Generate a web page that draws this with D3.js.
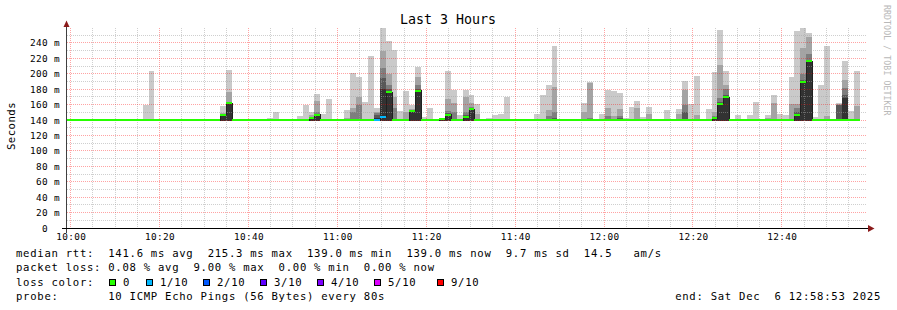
<!DOCTYPE html>
<html>
<head>
<meta charset="utf-8">
<script src="https://cdn.jsdelivr.net/npm/d3@7"></script>
<style>
  body { margin: 0; background: #fff; }
  text { font-family: "DejaVu Sans Mono", monospace; }
</style>
</head>
<body>
<div id="chart"></div>
<script>
// rrd step grid: one step every 80 s, step 0 starts at 10:00:11
var stepSec = 80;
var firstStep = "10:00:11";
var startTime = "09:59:10", endTime = "12:59:10";

// median rtt (ms) per step, steps -1 .. 132
var median = [
  139.5,139.5,139.5,139.5,139.5,139.5,139.5,139.5,139.5,139.5,   // -1..8
  139.5,139.5,139.5,139.5,139.5,139.5,139.5,139.5,139.5,139.5,   // 9..18
  139.5,139.5,139.5,139.5,139.5,139.5,147,162,139.5,139.5,       // 19..28
  139.5,139.5,139.5,139.5,139.5,139.5,139.5,139.5,139.5,139.5,   // 29..38
  139.5,143,147,139.5,139.5,139.5,139.5,139.5,139.5,139.5,       // 39..48
  139.5,139.5,139.5,144,176,139.5,139.5,139.5,152,178,           // 49..58
  139.5,139.5,139.5,141,147,139.5,139.5,144,154,139.5,           // 59..68
  139.5,139.5,139.5,139.5,139.5,139.5,139.5,139.5,139.5,139.5,   // 69..78
  139.5,139.5,139.5,139.5,139.5,139.5,139.5,139.5,139.5,139.5,   // 79..88
  139.5,139.5,139.5,139.5,139.5,139.5,139.5,139.5,139.5,139.5,   // 89..98
  139.5,139.5,139.5,139.5,139.5,139.5,139.5,139.5,139.5,142,     // 99..108
  161,169.5,139.5,139.5,139.5,139.5,139.5,139.5,139.5,139.5,     // 109..118
  139.5,139.5,139.5,147,189,216,139.5,139.5,139.5,139.5,         // 119..128
  139.5,140.5,139.5,139.5                                        // 129..132
];

// steps with lost pings
var lossStep = [51, 52];
var lossCount = [1, 1];

// smoke: steps with spread pings and the tops (ms) of the bands p10, p9, p8, p7, p6
var smokeFloor = 139.0;
var smokeStep = [12,13,25,26,33,34,38,39,40,41,42,43,46,47,48,49,50,51,52,53,54,55,56,57,58,59,60,
  62,63,64,65,66,67,68,70,71,72,73,78,79,80,81,85,86,87,89,90,91,92,93,94,95,96,97,99,100,
  102,103,104,105,106,107,108,109,110,112,114,115,117,118,119,120,121,122,123,124,125,126,127,
  129,130,131,132];
var smokeTop = [
  [160],[204],[158,149,148,148,148],[205,177,164,163,163],[142],[150],[145],[160],
  [150,146,144,144,144],[174,165,150,148,148],[148],[167],[153,142],[201,155,150],[196,170,160],
  [164],[223],[156,150,149,146,142],[259,230,208,195,180],[242,200,185,180,178],[231,170,155],
  [152],[178,150],[160,154,153,153,153],[209,196,185,180,179],[144],[155],
  [143,142,142,142,142],[204,167,152,149,148],[179,162,150],[147],[179,170,150,146,145],
  [173,162,157,155,155],[161,148],[142],[147],[148],[170],[148],[173],[186,153,145],
  [236,183,150,143],[141],[162,150],[189,188,142],[148],[179,155,145],[178,145],
  [175,154,145,142],[142],[157],[165,155],[144],[157,148],[141],[153],
  [154,148],[191,179,159,150],[161],[197,146],[141],[154],[202,150,145,143,143],
  [257,211,169,163,162],[204,185,180,172,171],[147],[147],[163],[147,143],[173,162],[148],
  [147],[196,161],[255,161,155,150,148],[259,233,200,192,190],[253,248,225,218,217],[144],
  [186],[236,145],[162,161,160,160],[216,192,182,172,168],[152],[204,158]
];

var yTicks = [0, 20, 40, 60, 80, 100, 120, 140, 160, 180, 200, 220, 240];
var xTickLabels = ["10:00", "10:20", "10:40", "11:00", "11:20", "11:40", "12:00", "12:20", "12:40"];
var smokeColors = ["#cacaca", "#a4a4a4", "#7e7e7e", "#585858", "#323232"];
var lossLabels = ["0", "1/10", "2/10", "3/10", "4/10", "5/10", "9/10"];
var lossLevels = [0, 1, 2, 3, 4, 5, 9];
var lossColors = ["#26ff00", "#00b8ff", "#0059ff", "#5e00ff", "#7e00ff", "#dd00ff", "#ff0000"];

var legendLines = [
  "median rtt:  141.6 ms avg  215.3 ms max  139.0 ms min  139.0 ms now  9.7 ms sd  14.5   am/s",
  "packet loss: 0.08 % avg  9.00 % max  0.00 % min  0.00 % now",
  "loss color:",
  "probe:       10 ICMP Echo Pings (56 Bytes) every 80s"
];
var endLabel = "end: Sat Dec  6 12:58:53 2025";

var W = 897, H = 310;
var plot = {left: 67, right: 867, top: 27.5, bottom: 228};

var svg = d3.select("#chart").append("svg")
  .attr("width", W).attr("height", H);

var parse = d3.timeParse("%H:%M:%S");
var x = d3.scaleTime()
  .domain([parse(startTime), parse(endTime)])
  .range([plot.left, plot.right]);
var y = d3.scaleLinear()
  .domain([0, 260])
  .range([plot.bottom, plot.top]);

var t0 = parse(firstStep);
function stepX(k) { return Math.round(x(new Date(+t0 + k * stepSec * 1000))); }
function px(v) { return Math.floor(v) + 0.5; }

svg.append("clipPath").attr("id", "clip")
  .append("rect")
  .attr("x", plot.left).attr("y", 0)
  .attr("width", plot.right - plot.left).attr("height", plot.bottom);

var g = svg.append("g").attr("clip-path", "url(#clip)");

// smoke
smokeStep.forEach(function(k, i) {
  smokeTop[i].forEach(function(top, j) {
    g.append("rect")
      .attr("x", stepX(k))
      .attr("width", stepX(k + 1) - stepX(k))
      .attr("y", Math.round(y(top)))
      .attr("height", Math.round(y(smokeFloor)) - Math.round(y(top)))
      .attr("fill", smokeColors[j])
      .attr("shape-rendering", "crispEdges");
  });
});

// grid
var minorY = d3.range(0, 260, 10).filter(function(v) { return v % 20 !== 0; });
var majorY = d3.range(20, 260, 20);
var minorX = x.ticks(d3.timeMinute.every(5)).filter(function(d) { return d.getMinutes() % 20 !== 0; });
var majorX = x.ticks(d3.timeMinute.every(20));

function hgrid(vals, color) {
  g.selectAll(null).data(vals).enter().append("line")
    .attr("x1", plot.left).attr("x2", plot.right)
    .attr("y1", function(v) { return px(y(v)); })
    .attr("y2", function(v) { return px(y(v)); })
    .attr("stroke", color).attr("stroke-dasharray", "1,1")
    .attr("shape-rendering", "crispEdges");
}
function vgrid(vals, color) {
  g.selectAll(null).data(vals).enter().append("line")
    .attr("y1", plot.top).attr("y2", plot.bottom)
    .attr("x1", function(d) { return px(x(d)); })
    .attr("x2", function(d) { return px(x(d)); })
    .attr("stroke", color).attr("stroke-dasharray", "1,1")
    .attr("shape-rendering", "crispEdges");
}
hgrid(minorY, "rgba(160,160,160,0.5)");
vgrid(minorX, "rgba(160,160,160,0.5)");
hgrid(majorY, "rgba(255,0,0,0.36)");
vgrid(majorX, "rgba(255,0,0,0.36)");

// median line (black step line)
var medPts = median.map(function(v, i) { return [stepX(i - 1), v]; });
medPts.push([stepX(median.length - 1), median[median.length - 1]]);
g.append("path")
  .attr("d", d3.line()
    .x(function(d) { return d[0]; })
    .y(function(d) { return px(y(d[1])); })
    .curve(d3.curveStepAfter)(medPts))
  .attr("fill", "none")
  .attr("stroke", "#202020")
  .attr("stroke-width", 1)
  .attr("shape-rendering", "crispEdges");

// loss coloured median bands
median.forEach(function(v, i) {
  var k = i - 1;
  var li = lossStep.indexOf(k);
  var lc = li < 0 ? 0 : lossCount[li];
  var ci = lossLevels.indexOf(lc);
  g.append("rect")
    .attr("x", stepX(k))
    .attr("width", stepX(k + 1) - stepX(k))
    .attr("y", Math.round(y(v)) - 1)
    .attr("height", 2)
    .attr("fill", lossColors[ci])
    .attr("shape-rendering", "crispEdges");
});

// axes
var yAxis = svg.append("g")
  .attr("transform", "translate(66,0)")
  .call(d3.axisLeft(y).tickValues(yTicks).tickSize(0).tickPadding(6)
    .tickFormat(function(v) { return v === 0 ? "0" : v + " m"; }));
yAxis.select(".domain").remove();
yAxis.selectAll("text")
  .style("font-family", "DejaVu Sans Mono, monospace")
  .style("font-size", "9.4px").style("letter-spacing", "0.35px")
  .attr("fill", "#000");
// rrdtool keeps the unit column empty for zero
yAxis.selectAll(".tick text").filter(function(d) { return d === 0; }).attr("x", -18);

var xTickDates = xTickLabels.map(function(s) { return parse(s + ":00"); });
var xAxis = svg.append("g")
  .attr("transform", "translate(0,228)")
  .call(d3.axisBottom(x).tickValues(xTickDates).tickSize(0).tickPadding(5)
    .tickFormat(d3.timeFormat("%H:%M")));
xAxis.select(".domain").remove();
xAxis.selectAll("text")
  .style("font-family", "DejaVu Sans Mono, monospace")
  .style("font-size", "9.4px").style("letter-spacing", "0.35px")
  .attr("fill", "#000");

svg.append("line")
  .attr("x1", 66.5).attr("x2", 66.5).attr("y1", 233).attr("y2", 24)
  .attr("stroke", "#404040").attr("shape-rendering", "crispEdges");
svg.append("line")
  .attr("x1", 62).attr("x2", 869).attr("y1", 228.5).attr("y2", 228.5)
  .attr("stroke", "#000").attr("shape-rendering", "crispEdges");
svg.append("path").attr("d", "M63.5,27 L69.5,27 L66.5,20.5 Z").attr("fill", "#8b1a1a");
svg.append("path").attr("d", "M868,225 L868,232 L874.5,228.5 Z").attr("fill", "#8b1a1a");

// title and labels
svg.append("text")
  .attr("x", 448).attr("y", 24).attr("text-anchor", "middle")
  .style("font-size", "13.3px").text("Last 3 Hours");

svg.append("text")
  .attr("transform", "translate(15,126) rotate(-90)")
  .attr("text-anchor", "middle")
  .style("font-size", "10.6px").style("letter-spacing", "0.5px")
  .text("Seconds");

svg.append("text")
  .attr("transform", "translate(884,5) rotate(90)")
  .attr("fill", "#b8b8b8")
  .style("font-size", "8.2px").style("letter-spacing", "0.1px")
  .text("RRDTOOL / TOBI OETIKER");

// legend
var rowY = [257, 271.3, 285.6, 300];
legendLines.forEach(function(s, i) {
  svg.append("text")
    .attr("x", 16).attr("y", rowY[i])
    .attr("xml:space", "preserve")
    .style("white-space", "pre")
    .style("font-size", "10.6px").style("letter-spacing", "0.72px")
    .text(s);
});

var boxX = [109, 146, 203, 260, 317, 374, 437];
lossLabels.forEach(function(lab, i) {
  svg.append("rect")
    .attr("x", boxX[i] + 0.5).attr("y", 279.5)
    .attr("width", 6).attr("height", 6)
    .attr("fill", lossColors[i]).attr("stroke", "#000").attr("stroke-width", 1)
    .attr("shape-rendering", "crispEdges");
  svg.append("text")
    .attr("x", boxX[i] + 14).attr("y", rowY[2])
    .style("font-size", "10.6px").style("letter-spacing", "0.72px")
    .text(lab);
});

svg.append("text")
  .attr("x", 881).attr("y", rowY[3]).attr("text-anchor", "end")
  .attr("xml:space", "preserve")
  .style("white-space", "pre")
  .style("font-size", "10.6px").style("letter-spacing", "0.72px")
  .text(endLabel);
</script>
</body>
</html>
